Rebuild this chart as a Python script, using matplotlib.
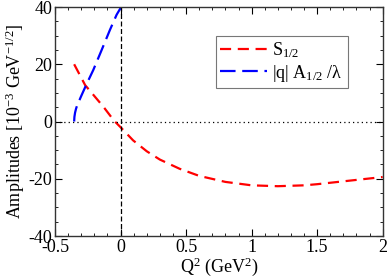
import matplotlib
matplotlib.use("Agg")
import matplotlib.pyplot as plt
from matplotlib.ticker import MultipleLocator

# Data
s_q2 = [-0.354, -0.27, -0.13, -0.05, 0.0, 0.096, 0.2, 0.3, 0.45, 0.6, 0.8, 1.0, 1.2, 1.4, 1.5, 1.7, 2.0]
s_val = [20.0, 12.7, 5.1, 0.3, -2.0, -6.6, -10.4, -13.3, -16.5, -19.0, -21.1, -22.3, -22.6, -22.3, -21.9, -20.9, -19.4]

a_q2 = [-0.354, -0.352, -0.347, -0.340, -0.333, -0.303, -0.263, -0.208, -0.144, -0.081, -0.030, 0.010]
a_val = [0.0, 1.6, 3.1, 4.4, 5.4, 8.6, 12.7, 18.0, 25.0, 32.0, 37.3, 40.4]

plt.rcParams['font.family'] = ['Liberation Serif', 'DejaVu Serif']
plt.rcParams['mathtext.fontset'] = 'custom'
plt.rcParams['mathtext.rm'] = 'Liberation Serif'
plt.rcParams['mathtext.it'] = 'Liberation Serif:italic'

FS = 13

fig = plt.figure(figsize=(3.88, 2.79), dpi=100)
ax = fig.add_axes([0.1418, 0.1541, 0.8445, 0.8208])

ax.plot(s_q2, s_val, color='#ff0000', lw=1.6, dashes=(5, 3), label=r'S$_{1/2}$')
ax.plot(a_q2, a_val, color='#0000ff', lw=1.6, dashes=(7, 3), label='|q| A$_{1/2}$ /\u03bb')

ax.axvline(0, color='black', lw=0.9, dashes=(4, 2))
ax.axhline(0, color='black', lw=0.9, dashes=(1, 2.5))

ax.set_xlim(-0.5, 2)
ax.set_ylim(-40, 40)
ax.xaxis.set_minor_locator(MultipleLocator(0.1))
ax.yaxis.set_minor_locator(MultipleLocator(5))
ax.set_xticks([-0.5, 0, 0.5, 1, 1.5, 2])
ax.set_xticklabels(['-0.5', '0', '0.5', '1', '1.5', '2'])
ax.set_yticks([-40, -20, 0, 20, 40])
ax.set_yticklabels(['-40', '-20', '0', '20', '40'])
ax.tick_params(which='both', direction='in', top=True, right=True, labelsize=FS, pad=2)
ax.tick_params(which='major', length=5)
ax.tick_params(which='minor', length=2.5)
for sp in ax.spines.values():
    sp.set_linewidth(1.0)
    sp.set_color('#333333')

ax.set_xlabel(r'Q$^2$ (GeV$^2$)', fontsize=FS, labelpad=0)
ax.set_ylabel(r'Amplitudes [10$^{-3}$ GeV$^{-1/2}$]', fontsize=FS, labelpad=1)

leg = ax.legend(loc='upper left', bbox_to_anchor=(0.49, 0.875), fontsize=FS, frameon=True,
                fancybox=False, edgecolor='#555555', handlelength=2.6, borderpad=0.25,
                labelspacing=0.15, handletextpad=0.3, borderaxespad=0)
leg.get_frame().set_linewidth(0.8)

fig.savefig('out.png', dpi=100)
